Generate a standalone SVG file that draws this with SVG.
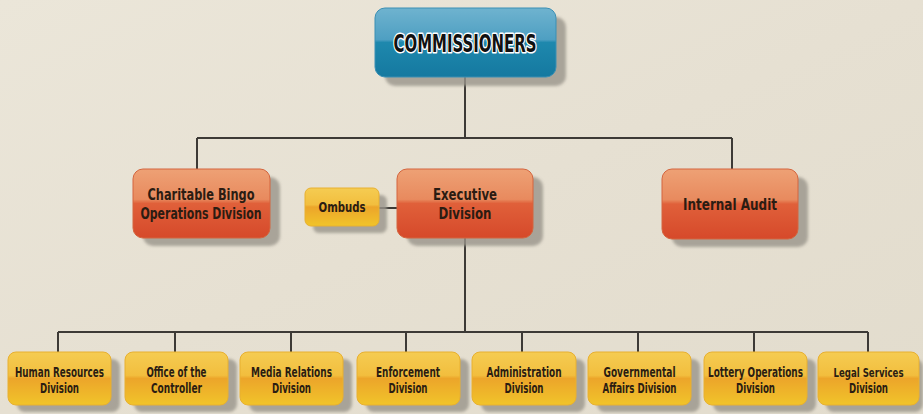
<svg xmlns="http://www.w3.org/2000/svg" width="923" height="414" viewBox="0 0 923 414">
<defs>
<linearGradient id="bg" x1="0" y1="0" x2="1" y2="1">
<stop offset="0" stop-color="#ebe6d9"/><stop offset="0.5" stop-color="#e6e0d2"/><stop offset="1" stop-color="#e2dccd"/>
</linearGradient>
<linearGradient id="gBlue" x1="0" y1="0" x2="0" y2="1">
<stop offset="0" stop-color="#6fb3cf"/><stop offset="0.46" stop-color="#4e9fc2"/><stop offset="0.5" stop-color="#1e88ad"/><stop offset="1" stop-color="#1579a0"/>
</linearGradient>
<linearGradient id="gOrange" x1="0" y1="0" x2="0" y2="1">
<stop offset="0" stop-color="#eea175"/><stop offset="0.44" stop-color="#e88a5e"/><stop offset="0.5" stop-color="#e0603a"/><stop offset="1" stop-color="#d6492a"/>
</linearGradient>
<linearGradient id="gYellow" x1="0" y1="0" x2="0" y2="1">
<stop offset="0" stop-color="#f5cc52"/><stop offset="0.44" stop-color="#f2be3e"/><stop offset="0.5" stop-color="#eca52a"/><stop offset="1" stop-color="#f1c42a"/>
</linearGradient>
<filter id="blur" x="-20%" y="-20%" width="140%" height="140%"><feGaussianBlur stdDeviation="1.5"/></filter>
</defs>
<style>
.shadow{fill:#9a958b;opacity:0.8;filter:url(#blur)}
.blue{fill:url(#gBlue);stroke:#3a8fb4;stroke-width:1}
.orange{fill:url(#gOrange);stroke:#d4653e;stroke-width:1}
.yellow{fill:url(#gYellow);stroke:#e8b030;stroke-width:1}
.line{fill:none;stroke:#3d3a36;stroke-width:2}
text{font-family:"DejaVu Sans Condensed","Liberation Sans Narrow","Liberation Sans",sans-serif;font-weight:bold;text-anchor:middle;fill:#2b1c12}
.big{font-size:24px;fill:#111;stroke:#fff;stroke-width:3;paint-order:stroke;stroke-linejoin:round}
.mid{font-size:16px}
.small{font-size:13.5px}
.tight{font-size:12px}
</style>
<rect width="923" height="414" fill="url(#bg)"/>
<g id="connectors">
<path class="line" d="M465 77 V138 M197 138 H732 M197 138 V169 M732 138 V169 M379 208 H397 M465 238 V332 M58 332 H868 M58 332 V352 M175 332 V352 M291 332 V352 M406 332 V352 M522 332 V352 M638 332 V352 M754 332 V352 M868 332 V352"/>
</g>
<g id="commissioners">
<rect class="shadow" x="385" y="17" width="181" height="69" rx="10"/>
<rect class="blue" x="375" y="8" width="181" height="69" rx="10"/>
<text class="big" x="465" y="52" textLength="143" lengthAdjust="spacingAndGlyphs">COMMISSIONERS</text>
</g>
<g id="charitable-bingo">
<rect class="shadow" x="143" y="177" width="137" height="69" rx="10"/>
<rect class="orange" x="133" y="169" width="137" height="69" rx="10"/>
<text class="mid" x="201" y="200" textLength="107" lengthAdjust="spacingAndGlyphs">Charitable Bingo</text>
<text class="mid" x="201" y="219" textLength="121" lengthAdjust="spacingAndGlyphs">Operations Division</text>
</g>
<g id="ombuds">
<rect class="shadow" x="313" y="195" width="74" height="38" rx="6"/>
<rect class="yellow" x="305" y="188" width="74" height="38" rx="6"/>
<text class="small" x="342" y="212" textLength="47" lengthAdjust="spacingAndGlyphs">Ombuds</text>
</g>
<g id="executive">
<rect class="shadow" x="407" y="177" width="136" height="69" rx="10"/>
<rect class="orange" x="397" y="169" width="136" height="69" rx="10"/>
<text class="mid" x="465" y="200" textLength="64" lengthAdjust="spacingAndGlyphs">Executive</text>
<text class="mid" x="465" y="219" textLength="53" lengthAdjust="spacingAndGlyphs">Division</text>
</g>
<g id="internal-audit">
<rect class="shadow" x="672" y="177" width="136" height="70" rx="10"/>
<rect class="orange" x="662" y="169" width="136" height="70" rx="10"/>
<text class="mid" x="730" y="210" textLength="94" lengthAdjust="spacingAndGlyphs">Internal Audit</text>
</g>
<g id="human-resources">
<rect class="shadow" x="17" y="359" width="103" height="53" rx="8"/>
<rect class="yellow" x="8" y="352" width="103" height="53" rx="8"/>
<text class="small" x="59.5" y="377" textLength="89" lengthAdjust="spacingAndGlyphs">Human Resources</text>
<text class="small" x="59.5" y="393" textLength="39" lengthAdjust="spacingAndGlyphs">Division</text>
</g>
<g id="controller">
<rect class="shadow" x="134" y="359" width="103" height="53" rx="8"/>
<rect class="yellow" x="125" y="352" width="103" height="53" rx="8"/>
<text class="small" x="176.5" y="377" textLength="60" lengthAdjust="spacingAndGlyphs">Office of the</text>
<text class="small" x="176.5" y="393" textLength="51" lengthAdjust="spacingAndGlyphs">Controller</text>
</g>
<g id="media-relations">
<rect class="shadow" x="249" y="359" width="103" height="53" rx="8"/>
<rect class="yellow" x="240" y="352" width="103" height="53" rx="8"/>
<text class="small" x="291.5" y="377" textLength="81" lengthAdjust="spacingAndGlyphs">Media Relations</text>
<text class="small" x="291.5" y="393" textLength="39" lengthAdjust="spacingAndGlyphs">Division</text>
</g>
<g id="enforcement">
<rect class="shadow" x="366" y="359" width="103" height="53" rx="8"/>
<rect class="yellow" x="357" y="352" width="103" height="53" rx="8"/>
<text class="small" x="408" y="377" textLength="64" lengthAdjust="spacingAndGlyphs">Enforcement</text>
<text class="small" x="408" y="393" textLength="39" lengthAdjust="spacingAndGlyphs">Division</text>
</g>
<g id="administration">
<rect class="shadow" x="481" y="359" width="104" height="53" rx="8"/>
<rect class="yellow" x="472" y="352" width="104" height="53" rx="8"/>
<text class="small" x="524" y="377" textLength="75" lengthAdjust="spacingAndGlyphs">Administration</text>
<text class="small" x="524" y="393" textLength="39" lengthAdjust="spacingAndGlyphs">Division</text>
</g>
<g id="governmental-affairs">
<rect class="shadow" x="597" y="359" width="103" height="53" rx="8"/>
<rect class="yellow" x="588" y="352" width="103" height="53" rx="8"/>
<text class="small" x="639.5" y="377" textLength="72" lengthAdjust="spacingAndGlyphs">Governmental</text>
<text class="small" x="639.5" y="393" textLength="74" lengthAdjust="spacingAndGlyphs">Affairs Division</text>
</g>
<g id="lottery-operations">
<rect class="shadow" x="713" y="359" width="103" height="53" rx="8"/>
<rect class="yellow" x="704" y="352" width="103" height="53" rx="8"/>
<text class="small" x="755.5" y="377" textLength="95" lengthAdjust="spacingAndGlyphs">Lottery Operations</text>
<text class="small" x="755.5" y="393" textLength="39" lengthAdjust="spacingAndGlyphs">Division</text>
</g>
<g id="legal-services">
<rect class="shadow" x="826" y="359" width="97" height="53" rx="8"/>
<rect class="yellow" x="818" y="352" width="101" height="53" rx="8"/>
<text class="tight" x="868.5" y="377" textLength="70" lengthAdjust="spacingAndGlyphs">Legal Services</text>
<text class="small" x="868.5" y="393" textLength="39" lengthAdjust="spacingAndGlyphs">Division</text>
</g>
</svg>
